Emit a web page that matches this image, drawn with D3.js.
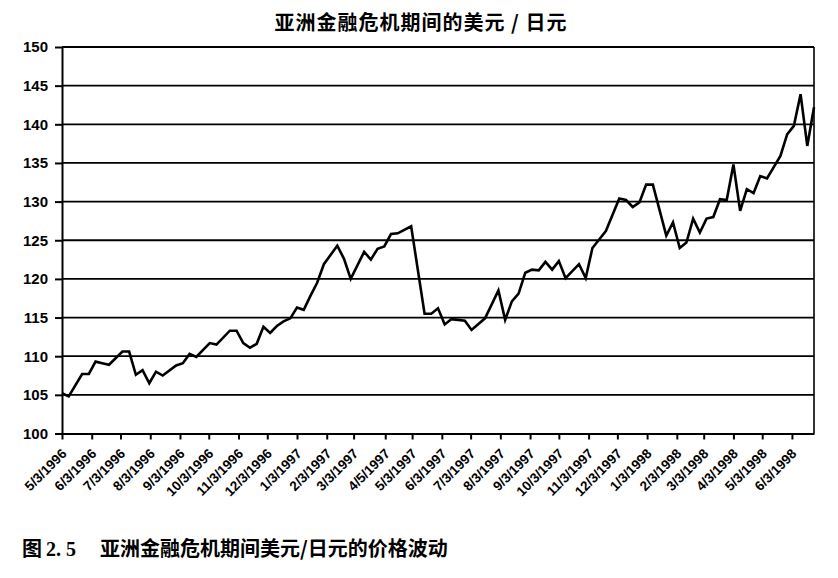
<!DOCTYPE html>
<html>
<head>
<meta charset="utf-8">
<script src="https://cdn.jsdelivr.net/npm/d3@7"></script>
<style>
    body { margin: 0; background: #fff; }
    svg { display: block; }
    .title { font-family: 'Noto Sans CJK SC', sans-serif; font-weight: 700; font-size: 20px; }
    .caption { font-family: 'Noto Sans CJK SC', sans-serif; font-weight: 700; font-size: 20px; }
    .caption .num { font-family: 'Liberation Serif', serif; font-weight: 700; }
    .axis text { font-family: 'Liberation Sans Narrow', 'Arial Narrow', 'Liberation Sans', sans-serif; font-weight: 700; fill: #000; }
    .axis path, .axis line { stroke: #000; stroke-width: 2px; }
</style>
</head>
<body>
<svg id="chart" width="838" height="578"></svg>
<script>
// weekly USD/JPY closes (only the turning points)
var dates = [
    '1996-05-03', '1996-05-10', '1996-05-24', '1996-05-31', '1996-06-07', '1996-06-14', '1996-06-21',
    '1996-07-05', '1996-07-12', '1996-07-19', '1996-07-26', '1996-08-02', '1996-08-09', '1996-08-16',
    '1996-08-30', '1996-09-06', '1996-09-13', '1996-09-20', '1996-10-04', '1996-10-11', '1996-10-25',
    '1996-11-01', '1996-11-08', '1996-11-15', '1996-11-22', '1996-11-29', '1996-12-06', '1996-12-13',
    '1996-12-20', '1996-12-27', '1997-01-03', '1997-01-10', '1997-01-17', '1997-01-24', '1997-01-31',
    '1997-02-14', '1997-02-21', '1997-02-28', '1997-03-14', '1997-03-21', '1997-03-28', '1997-04-04',
    '1997-04-11', '1997-04-18', '1997-05-02', '1997-05-16', '1997-05-23', '1997-05-30', '1997-06-06',
    '1997-06-13', '1997-06-20', '1997-06-27', '1997-07-04', '1997-07-18', '1997-08-01', '1997-08-08',
    '1997-08-15', '1997-08-22', '1997-08-29', '1997-09-05', '1997-09-12', '1997-09-19', '1997-09-26',
    '1997-10-03', '1997-10-10', '1997-10-24', '1997-10-31', '1997-11-07', '1997-11-14', '1997-11-21',
    '1997-12-05', '1997-12-12', '1997-12-19', '1997-12-26', '1998-01-02', '1998-01-09', '1998-01-23',
    '1998-01-30', '1998-02-06', '1998-02-13', '1998-02-20', '1998-02-27', '1998-03-06', '1998-03-13',
    '1998-03-20', '1998-03-27', '1998-04-03', '1998-04-10', '1998-04-17', '1998-04-24', '1998-05-01',
    '1998-05-08', '1998-05-22', '1998-05-29', '1998-06-05', '1998-06-12', '1998-06-19', '1998-06-26'
];
var values = [
    105.2, 104.8, 107.7, 107.7, 109.3, 109.1, 108.9,
    110.6, 110.6, 107.6, 108.2, 106.5, 108.0, 107.5,
    108.8, 109.1, 110.3, 109.9, 111.7, 111.5, 113.3,
    113.3, 111.7, 111.1, 111.6, 113.8, 113.0, 113.9,
    114.5, 114.9, 116.3, 116.0, 117.8, 119.5, 121.9,
    124.3, 122.6, 120.0, 123.5, 122.5, 123.9, 124.2,
    125.8, 125.9, 126.8, 115.5, 115.5, 116.2, 114.1,
    114.8, 114.7, 114.6, 113.4, 114.9, 118.5, 114.7,
    117.1, 118.1, 120.8, 121.2, 121.1, 122.2, 121.2,
    122.3, 120.1, 121.9, 120.1, 124.0, 125.1, 126.2,
    130.4, 130.2, 129.3, 129.9, 132.2, 132.2, 125.6,
    127.3, 124.0, 124.7, 127.8, 126.0, 127.8, 128.0,
    130.3, 130.2, 134.8, 128.8, 131.6, 131.1, 133.3,
    133.0, 135.9, 138.7, 139.8, 143.9, 137.2, 142.2
];
var tickDates = [
    '1996-05-03', '1996-06-03', '1996-07-03', '1996-08-03', '1996-09-03', '1996-10-03', '1996-11-03',
    '1996-12-03', '1997-01-03', '1997-02-03', '1997-03-03', '1997-04-05', '1997-05-03', '1997-06-03',
    '1997-07-03', '1997-08-03', '1997-09-03', '1997-10-03', '1997-11-03', '1997-12-03', '1998-01-03',
    '1998-02-03', '1998-03-03', '1998-04-03', '1998-05-03', '1998-06-03'
];
var yTicks = [100, 105, 110, 115, 120, 125, 130, 135, 140, 145, 150];
var title = '亚洲金融危机期间的美元 / 日元';
var captionNum = '图 2. 5';
var captionText = '亚洲金融危机期间美元/日元的价格波动';

(function() {
    var parse = d3.timeParse('%Y-%m-%d');
    var fmt = d3.timeFormat('%-m/%-d/%Y');

    var plotLeft = 62;
    var plotRight = 814;
    var plotTop = 47;
    var plotBottom = 433.5;

    var svg = d3.select('#chart');

    var x = d3.scaleTime()
        .domain([parse('1996-05-03'), parse('1998-06-26')])
        .range([plotLeft, plotRight]);

    var y = d3.scaleLinear()
        .domain([100, 150])
        .range([plotBottom, plotTop]);

    var points = dates.map(function(d, i) {
        return { date: parse(d), value: values[i] };
    });

    svg.append('text')
        .attr('class', 'title')
        .attr('x', 421)
        .attr('y', 30)
        .attr('text-anchor', 'middle')
        .style('letter-spacing', '1px')
        .text(title);

    // horizontal grid
    svg.append('g')
        .selectAll('line')
        .data(yTicks.slice(1))
        .join('line')
        .attr('x1', plotLeft)
        .attr('x2', plotRight)
        .attr('y1', function(d) { return y(d); })
        .attr('y2', function(d) { return y(d); })
        .attr('stroke', '#000')
        .attr('stroke-width', 1.8);

    svg.append('line')
        .attr('x1', plotRight).attr('x2', plotRight)
        .attr('y1', plotTop).attr('y2', plotBottom)
        .attr('stroke', '#000')
        .attr('stroke-width', 1.6);

    var yAxis = svg.append('g')
        .attr('class', 'axis')
        .attr('transform', 'translate(' + plotLeft + ',0)')
        .call(d3.axisLeft(y).tickValues(yTicks).tickSize(7).tickSizeOuter(0).tickPadding(7));
    yAxis.selectAll('text').style('font-size', '15px');

    var xAxis = svg.append('g')
        .attr('class', 'axis')
        .attr('transform', 'translate(0,' + plotBottom + ')')
        .call(d3.axisBottom(x).tickValues(tickDates.map(parse)).tickFormat(fmt).tickSize(6).tickSizeOuter(0));
    xAxis.selectAll('text')
        .style('font-size', '13.5px')
        .attr('text-anchor', 'end')
        .attr('dy', null)
        .attr('y', 0)
        .attr('transform', 'translate(5,21) rotate(-45)');

    svg.append('path')
        .datum(points)
        .attr('fill', 'none')
        .attr('stroke', '#000')
        .attr('stroke-width', 2.6)
        .attr('stroke-linejoin', 'miter')
        .attr('d', d3.line()
            .x(function(d) { return x(d.date); })
            .y(function(d) { return y(d.value); }));

    var cap = svg.append('text')
        .attr('class', 'caption')
        .attr('x', 22)
        .attr('y', 556);
    cap.append('tspan').text(captionNum.slice(0, 1));
    cap.append('tspan').attr('class', 'num').attr('dx', 4).text(captionNum.slice(1).trim());
    cap.append('tspan').attr('x', 100).text(captionText);
})();
</script>
</body>
</html>
